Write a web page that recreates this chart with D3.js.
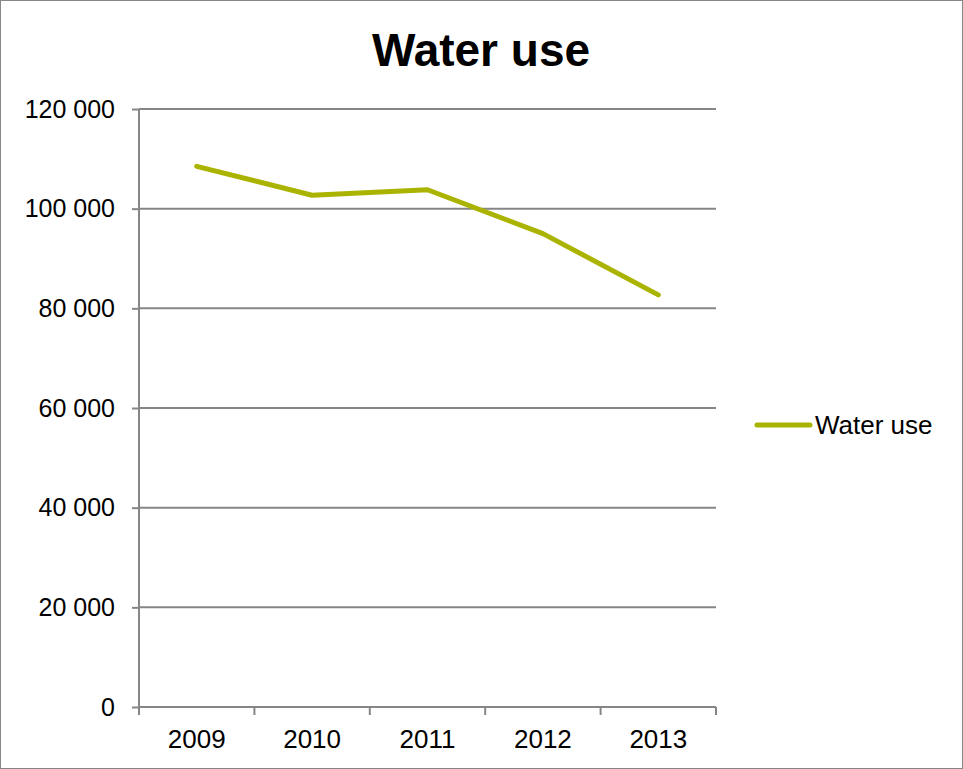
<!DOCTYPE html>
<meta charset="utf-8">
<script src="https://cdn.jsdelivr.net/npm/d3@7"></script>
<style>
  body { margin: 0; background: #fff; }
  text { font-family: "Liberation Sans", Arial, sans-serif; fill: #000; }
</style>
<body>
<script>

var years = ["2009", "2010", "2011", "2012", "2013"]
var waterUse = [108500, 102700, 103800, 95000, 82700]
var yTicks = [0, 20000, 40000, 60000, 80000, 100000, 120000]
var seriesName = "Water use"

var width = 963
var height = 769

var x = d3.scaleBand().domain(years).range([139, 716]);
var y = d3.scaleLinear().domain([0, 120000]).range([707, 109]);

var fmt = function(d) { return d3.format(",")(d).replace(/,/g, " "); }

var svg = d3.select("body").append("svg")
            .attr("width", width)
            .attr("height", height);

// outer frame
svg.append("rect")
   .attr("x", 0.5).attr("y", 0.5)
   .attr("width", width - 1).attr("height", height - 1)
   .attr("fill", "#fff").attr("stroke", "#878787");

svg.append("text")
   .attr("x", 481).attr("y", 66)
   .attr("text-anchor", "middle")
   .style("font-size", "46px").style("font-weight", "bold")
   .text(seriesName);

// y axis with gridlines
var yAxis = svg.append("g")
    .attr("transform", "translate(139,0)")
    .call(d3.axisLeft(y).tickValues(yTicks).tickFormat(fmt).tickSize(7).tickPadding(17));
yAxis.select(".domain").remove();
yAxis.selectAll(".tick line").attr("stroke", "#868686").attr("stroke-width", 2);
yAxis.selectAll(".tick text").style("font-size", "25px").style("font-family", "'Liberation Sans', Arial, sans-serif");

svg.append("g")
   .selectAll("line")
   .data(yTicks.filter(function(d) { return d > 0; }))
   .join("line")
   .attr("x1", 139).attr("x2", 716)
   .attr("y1", function(d) { return y(d); }).attr("y2", function(d) { return y(d); })
   .attr("stroke", "#868686").attr("stroke-width", 2);

svg.append("line")
   .attr("x1", 139).attr("x2", 139)
   .attr("y1", 109).attr("y2", 707)
   .attr("stroke", "#868686").attr("stroke-width", 2);

// x axis
var xAxis = svg.append("g")
    .attr("transform", "translate(0,707)")
    .call(d3.axisBottom(x).tickSize(0).tickPadding(23));
xAxis.select(".domain").attr("stroke", "#868686").attr("stroke-width", 2)
     .attr("d", "M139,0H716");
xAxis.selectAll(".tick text").style("font-size", "26px").style("font-family", "'Liberation Sans', Arial, sans-serif");

var bounds = years.map(function(d) { return x(d); }).concat([x.range()[1]]);
svg.append("g")
   .selectAll("line")
   .data(bounds)
   .join("line")
   .attr("x1", function(d) { return d; }).attr("x2", function(d) { return d; })
   .attr("y1", 707).attr("y2", 715)
   .attr("stroke", "#868686").attr("stroke-width", 2);

// series
var line = d3.line()
    .x(function(d, i) { return x(years[i]) + x.bandwidth() / 2; })
    .y(function(d) { return y(d); });

svg.append("path")
   .attr("d", line(waterUse))
   .attr("fill", "none")
   .attr("stroke", "#aab400")
   .attr("stroke-width", 5)
   .attr("stroke-linecap", "round")
   .attr("stroke-linejoin", "round");

// legend
svg.append("line")
   .attr("x1", 757).attr("x2", 810)
   .attr("y1", 425).attr("y2", 425)
   .attr("stroke", "#aab400").attr("stroke-width", 5)
   .attr("stroke-linecap", "round");

svg.append("text")
   .attr("x", 815).attr("y", 434)
   .style("font-size", "26px")
   .text(seriesName);

</script>
</body>
